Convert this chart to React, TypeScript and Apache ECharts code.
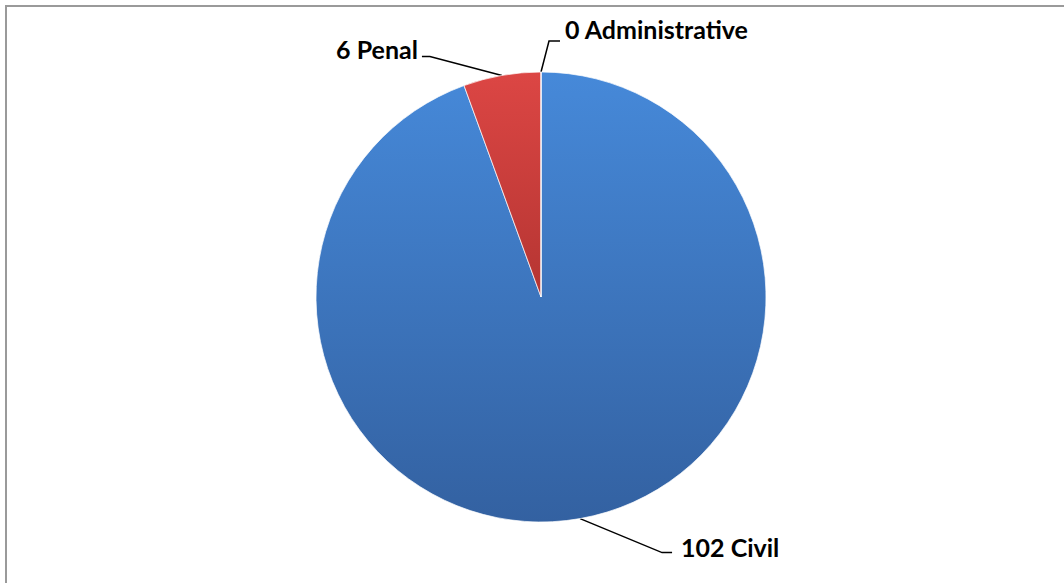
import React, { useEffect, useRef } from "react";
import * as echarts from "echarts";

const categories: string[] = ["Civil", "Penal", "Administrative"];
const values: number[] = [102, 6, 0];

const sliceColors: string[][] = [
  ["#4689d9", "#3361a1"],
  ["#dc4644", "#b53532"],
  ["#9bbb59", "#7a9a3d"],
];

// label-line geometry relative to the slice anchor (styling only)
const labelOffsets = [
  { knee: [82, 34], end: 10, gap: 9, align: "left", dy: -6 },
  { knee: [-72, -19], end: -8, gap: 4, align: "right", dy: -7 },
  { knee: [8, -31], end: 11, gap: 5, align: "left", dy: -12 },
];

export default function App() {
  const ref = useRef<HTMLDivElement>(null);
  useEffect(() => {
    if (!ref.current) return;
    const chart = echarts.init(ref.current, null, { renderer: "svg" });
    const data = categories.map((name, i) => ({
      name,
      value: values[i],
      itemStyle: {
        color: new echarts.graphic.LinearGradient(0, 0, 0, 1, [
          { offset: 0, color: sliceColors[i][0] },
          { offset: 1, color: sliceColors[i][1] },
        ]),
      },
    }));
    chart.setOption({
      animation: false,
      backgroundColor: "#ffffff",
      graphic: [
        {
          type: "rect",
          shape: { x: 6, y: 6, width: 1200, height: 700 },
          style: { fill: "none", stroke: "#9a9a9a", lineWidth: 2 },
          silent: true,
        },
      ],
      series: [
        {
          type: "pie",
          center: [541, 297],
          radius: 225,
          startAngle: 90,
          clockwise: true,
          avoidLabelOverlap: false,
          data,
          itemStyle: {
            borderColor: "rgba(255,255,255,0.7)",
            borderWidth: 1,
          },
          label: {
            show: true,
            position: "outside",
            formatter: "{c} {b}",
            fontFamily: "Lato",
            fontWeight: "bold",
            fontSize: 25,
            color: "#000000",
          },
          labelLine: {
            show: true,
            length: 20,
            length2: 10,
            lineStyle: { color: "#000000", width: 1.5 },
          },
          labelLayout: (params: any) => {
            const i = params.dataIndex;
            const pts = params.labelLinePoints;
            if (!pts || !pts[0]) return {};
            const a = pts[0];
            const o = labelOffsets[i];
            const k = [a[0] + o.knee[0], a[1] + o.knee[1]];
            const e = [k[0] + o.end, k[1]];
            const tx = e[0] + (o.end > 0 ? o.gap : -o.gap);
            return {
              x: tx,
              y: e[1] + o.dy,
              align: o.align,
              verticalAlign: "middle",
              labelLinePoints: [a, k, e],
            };
          },
        },
      ],
    });
    return () => chart.dispose();
  }, []);
  return (
    <div
      ref={ref}
      style={{ position: "fixed", left: 0, top: 0, width: 1064, height: 583 }}
    />
  );
}
